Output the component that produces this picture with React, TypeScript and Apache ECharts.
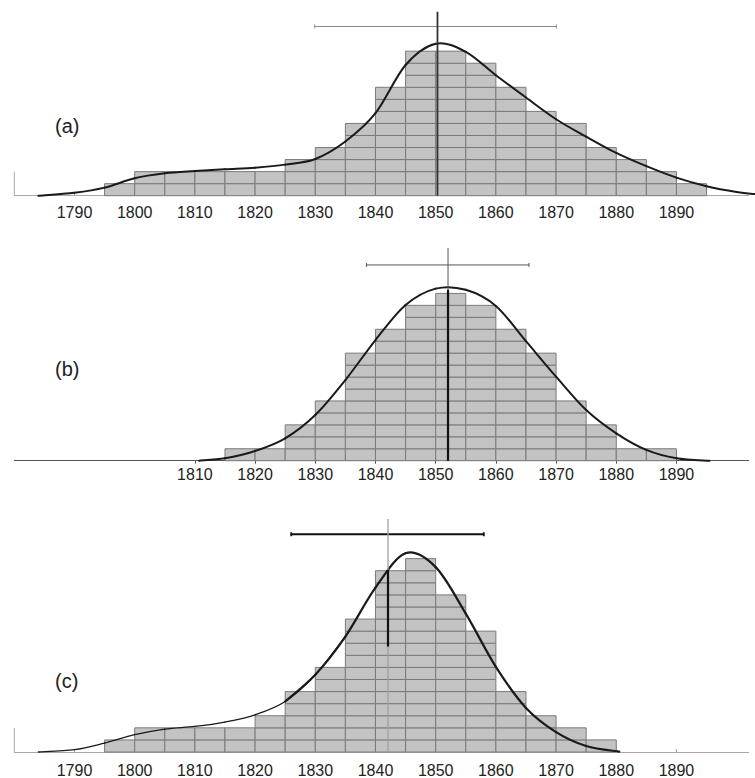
import React, { useEffect, useRef } from "react";
import * as echarts from "echarts";

// ---------- data ----------
const binStartsA = [1795, 1800, 1805, 1810, 1815, 1820, 1825, 1830, 1835, 1840, 1845, 1850, 1855, 1860, 1865, 1870, 1875, 1880, 1885, 1890];
const countsA = [1, 2, 2, 2, 2, 2, 3, 4, 6, 9, 12, 12, 11, 9, 7, 6, 4, 3, 2, 1];

const binStartsB = [1815, 1820, 1825, 1830, 1835, 1840, 1845, 1850, 1855, 1860, 1865, 1870, 1875, 1880, 1885];
const countsB = [1, 1, 3, 5, 9, 11, 13, 14, 13, 11, 9, 5, 3, 1, 1];

const binStartsC = [1795, 1800, 1805, 1810, 1815, 1820, 1825, 1830, 1835, 1840, 1845, 1850, 1855, 1860, 1865, 1870, 1875];
const countsC = [1, 2, 2, 2, 2, 3, 5, 7, 11, 15, 16, 13, 10, 5, 3, 2, 1];

const BIN_WIDTH = 5;

const curveA: number[][] = [
  [1784, 0], [1790, 0.25], [1795, 0.67], [1800, 1.45], [1805, 1.86], [1810, 2.05], [1815, 2.2],
  [1820, 2.33], [1825, 2.58], [1830, 3.05], [1835, 4.5], [1840, 6.85], [1845, 10.85],
  [1850, 12.62], [1855, 11.95], [1860, 10.0], [1865, 8.15], [1870, 6.35], [1875, 4.9], [1880, 3.55],
  [1885, 2.45], [1890, 1.5], [1895, 0.78], [1900, 0.3], [1903.3, 0.12],
];
const curveB: number[][] = [
  [1810.7, 0], [1815, 0.2], [1820, 0.81], [1825, 1.87], [1830, 3.82], [1835, 6.75], [1840, 10.1],
  [1845, 13.03], [1850, 14.4], [1855, 14.3], [1860, 12.95], [1865, 10.0],
  [1870, 7.03], [1875, 4.24], [1880, 2.29], [1885, 0.9], [1890, 0.2], [1895.5, 0],
];
const curveCThin: number[][] = [
  [1784, 0], [1790, 0.19], [1795, 0.74], [1800, 1.43], [1805, 1.9], [1810, 2.12], [1815, 2.48],
  [1820, 3.08], [1825, 4.18], [1830, 6.39], [1835, 9.55],
];
const curveCThick: number[][] = [
  [1825, 4.18], [1830, 6.39], [1835, 9.55], [1840, 13.6], [1845, 16.45],
  [1850, 15.3], [1855, 11.45], [1860, 7.05], [1865, 3.65], [1870, 1.65], [1875, 0.5], [1880.5, 0.03],
];

// error bars: [from, to, level]
const errA = [1829.9, 1870.05, 14.05];
const errB = [1838.5, 1865.5, 16.38];
const errC = [1826.0, 1858.0, 18.02];

// vertical markers: [x, yFrom, yTo]
const vertA = [1850.3, 0, 15.27];
const vertBThin = [1852.05, 0, 17.8];
const vertBThick = [1852.05, 0, 14.3];
const vertCThin = [1842.08, 0, 19.28];
const vertCThick = [1842.08, 8.73, 15.07];

const tickLabelsAC = [1790, 1800, 1810, 1820, 1830, 1840, 1850, 1860, 1870, 1880, 1890];
const tickLabelsB = [1810, 1820, 1830, 1840, 1850, 1860, 1870, 1880, 1890];
const panelLabels = ["(a)", "(b)", "(c)"];

const X_MIN = 1780;
const X_MAX = 1902;

const FONT = "Liberation Sans, Arial, sans-serif";

export default function App() {
  const ref = useRef<HTMLDivElement>(null);

  useEffect(() => {
    if (!ref.current) return;
    const chart = echarts.init(ref.current, null, { renderer: "svg" });

    const hist = (starts: number[], counts: number[], idx: number) => ({
      type: "custom",
      xAxisIndex: idx,
      yAxisIndex: idx,
      z: 2,
      encode: { x: [0, 1], y: 2 },
      data: starts.map((s, i) => [s, s + BIN_WIDTH, counts[i]]),
      renderItem: (_p: any, api: any) => {
        const x0 = api.value(0) as number;
        const x1 = api.value(1) as number;
        const n = api.value(2) as number;
        const children: any[] = [];
        for (let k = 0; k < n; k++) {
          const a = api.coord([x0, k]);
          const b = api.coord([x1, k + 1]);
          children.push({
            type: "rect",
            shape: { x: a[0], y: b[1], width: b[0] - a[0], height: a[1] - b[1] },
            style: { fill: "#c3c3c3", stroke: "#7a7a7a", lineWidth: 1 },
          });
        }
        return { type: "group", children };
      },
    });

    // Catmull-Rom spline through the data points, drawn segment by segment
    const curve = (d: number[][], idx: number, width: number) => ({
      type: "custom",
      xAxisIndex: idx,
      yAxisIndex: idx,
      z: 5,
      clip: false,
      silent: true,
      encode: { x: 0, y: 1 },
      data: d,
      renderItem: (params: any, api: any) => {
        const i = params.dataIndexInside;
        const n = params.dataInsideLength;
        if (i >= n - 1) return null;
        const pt = (j: number) => {
          const jj = Math.max(0, Math.min(n - 1, j));
          return api.coord([api.value(0, jj), api.value(1, jj)]);
        };
        const p0 = pt(i - 1);
        const p1 = pt(i);
        const p2 = pt(i + 1);
        const p3 = pt(i + 2);
        return {
          type: "bezierCurve",
          shape: {
            x1: p1[0],
            y1: p1[1],
            x2: p2[0],
            y2: p2[1],
            cpx1: p1[0] + (p2[0] - p0[0]) / 6,
            cpy1: p1[1] + (p2[1] - p0[1]) / 6,
            cpx2: p2[0] - (p3[0] - p1[0]) / 6,
            cpy2: p2[1] - (p3[1] - p1[1]) / 6,
          },
          style: { fill: "none", stroke: "#1a1a1a", lineWidth: width, lineCap: "round" },
        };
      },
    });

    const errBar = (e: number[], idx: number, color: string, width: number) => ({
      type: "custom",
      xAxisIndex: idx,
      yAxisIndex: idx,
      z: 6,
      encode: { x: [0, 1], y: 2 },
      data: [e],
      renderItem: (_p: any, api: any) => {
        const a = api.coord([api.value(0), api.value(2)]);
        const b = api.coord([api.value(1), api.value(2)]);
        const st = { stroke: color, lineWidth: width };
        return {
          type: "group",
          children: [
            { type: "line", shape: { x1: a[0], y1: a[1], x2: b[0], y2: b[1] }, style: st },
            { type: "line", shape: { x1: a[0], y1: a[1] - 2, x2: a[0], y2: a[1] + 2 }, style: st },
            { type: "line", shape: { x1: b[0], y1: b[1] - 2, x2: b[0], y2: b[1] + 2 }, style: st },
          ],
        };
      },
    });

    const vline = (v: number[], idx: number, color: string, width: number, z: number) => ({
      type: "line",
      xAxisIndex: idx,
      yAxisIndex: idx,
      z,
      symbol: "none",
      silent: true,
      data: [[v[0], v[1]], [v[0], v[2]]],
      lineStyle: { color, width },
    });

    const xAxis = (idx: number, labels: number[], lineColor: string, tickInside: boolean, margin: number) => ({
      type: "value",
      gridIndex: idx,
      min: X_MIN,
      max: X_MAX,
      splitLine: { show: false },
      axisLine: { show: true, lineStyle: { color: lineColor, width: 1 } },
      axisTick: {
        show: true,
        inside: tickInside,
        length: 3,
        customValues: labels,
        lineStyle: { color: lineColor },
      },
      axisLabel: {
        customValues: labels,
        formatter: (v: number) => String(v),
        color: "#222",
        fontSize: 16,
        fontFamily: FONT,
        margin,
      },
    });

    const yAxis = (idx: number, max: number) => ({
      type: "value",
      gridIndex: idx,
      min: 0,
      max,
      show: false,
    });

    const gridLeft = 14.3;
    const gridWidth = 734.4;

    const option: any = {
      animation: false,
      backgroundColor: "#ffffff",
      grid: [
        { left: gridLeft, width: gridWidth, top: 3, height: 192.7 },
        { left: gridLeft, width: gridWidth, top: 245.6, height: 215.1 },
        { left: gridLeft, width: gridWidth, top: 510.3, height: 242 },
      ],
      xAxis: [
        xAxis(0, tickLabelsAC, "#a8a8a8", true, 9),
        xAxis(1, tickLabelsB, "#555555", false, 6),
        xAxis(2, tickLabelsAC, "#a8a8a8", true, 10),
      ],
      yAxis: [yAxis(0, 16), yAxis(1, 18), yAxis(2, 20)],
      graphic: [
        { type: "text", left: 55, top: 116, style: { text: panelLabels[0], fontSize: 20, fill: "#222", fontFamily: FONT } },
        { type: "text", left: 55, top: 359, style: { text: panelLabels[1], fontSize: 20, fill: "#222", fontFamily: FONT } },
        { type: "text", left: 55, top: 671, style: { text: panelLabels[2], fontSize: 20, fill: "#222", fontFamily: FONT } },
      ],
      series: [
        hist(binStartsA, countsA, 0),
        hist(binStartsB, countsB, 1),
        hist(binStartsC, countsC, 2),
        // y-axis stubs
        vline([X_MIN, 0, 2], 0, "#a8a8a8", 1, 1),
        vline([X_MIN, 0, 2], 2, "#a8a8a8", 1, 1),
        curve(curveA, 0, 2),
        curve(curveB, 1, 2),
        curve(curveCThin, 2, 1.3),
        curve(curveCThick, 2, 2.2),
        vline(vertA, 0, "#333333", 1.8, 7),
        vline(vertBThin, 1, "#555555", 1, 7),
        vline(vertBThick, 1, "#111111", 2.2, 8),
        vline(vertCThin, 2, "#a0a0a0", 1.3, 7),
        vline(vertCThick, 2, "#111111", 2.2, 8),
        errBar(errA, 0, "#8a8a8a", 1),
        errBar(errB, 1, "#555555", 1),
        errBar(errC, 2, "#111111", 1.8),
      ],
    };

    chart.setOption(option);
    return () => chart.dispose();
  }, []);

  return (
    <div
      ref={ref}
      style={{ position: "fixed", left: 0, top: 0, width: 755, height: 778, background: "#fff" }}
    />
  );
}
